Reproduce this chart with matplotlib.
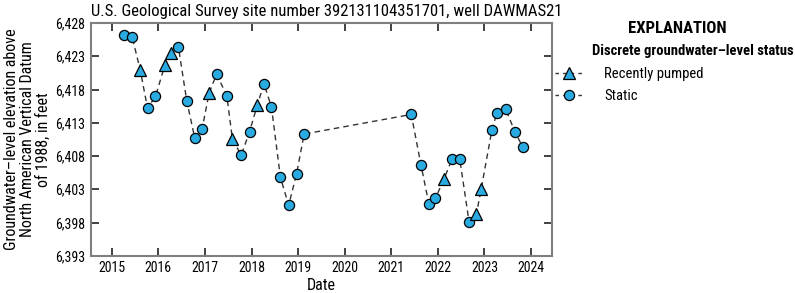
import matplotlib
matplotlib.use("Agg")
import matplotlib.pyplot as plt
import matplotlib.dates as mdates
from matplotlib.lines import Line2D
from matplotlib.ticker import FuncFormatter
import numpy as np

plt.rcParams['font.family'] = ['Roboto Condensed', 'Asap Condensed', 'Liberation Sans', 'DejaVu Sans']

# measurement dates, water-level elevations and status (P = recently pumped, S = static)
dates = ["2015-04-08", "2015-06-10", "2015-08-11", "2015-10-08", "2015-12-09",
         "2016-02-21", "2016-04-08", "2016-06-06", "2016-08-11", "2016-10-12",
         "2016-12-09", "2017-02-02", "2017-04-02", "2017-06-21", "2017-08-04",
         "2017-10-12", "2017-12-16", "2018-02-14", "2018-04-08", "2018-06-06",
         "2018-08-15", "2018-10-19", "2018-12-20", "2019-02-17", "2021-06-06",
         "2021-08-22", "2021-10-23", "2021-12-13", "2022-02-17", "2022-04-23",
         "2022-06-21", "2022-09-02", "2022-10-30", "2022-12-06", "2023-02-28",
         "2023-04-08", "2023-06-17", "2023-08-29", "2023-10-30"]
elev = [6426.15, 6425.85, 6421.0, 6415.2, 6416.95,
        6421.65, 6423.55, 6424.4, 6416.25, 6410.75,
        6412.05, 6417.5, 6420.3, 6417.05, 6410.5,
        6408.15, 6411.65, 6415.6, 6418.9, 6415.35,
        6404.8, 6400.6, 6405.35, 6411.3, 6414.25,
        6406.6, 6400.75, 6401.65, 6404.5, 6407.6,
        6407.6, 6398.15, 6399.3, 6403.0, 6411.85,
        6414.45, 6415.0, 6411.6, 6409.3]
status = ["S", "S", "P", "S", "S", "P", "P", "S", "S", "S",
          "S", "P", "S", "S", "P", "S", "S", "P", "S", "S",
          "S", "S", "S", "S", "S", "S", "S", "S", "P", "S",
          "S", "S", "P", "P", "S", "S", "S", "S", "S"]
yticks = [6393, 6398, 6403, 6408, 6413, 6418, 6423, 6428]

x = np.array(dates, dtype="datetime64[D]")
y = np.array(elev)
st = np.array(status)

blue = "#29abe2"
gray = "#7f7f7f"

fig = plt.figure(figsize=(7.95, 2.93), dpi=100)
ax = fig.add_axes([0.1145, 0.127, 0.5802, 0.7945])

ax.plot(x, y, color="#333333", ls=(0, (4, 3)), lw=1.0, zorder=2)
p = st == "P"
ax.plot(x[~p], y[~p], ls="none", marker="o", ms=7.3, mfc=blue, mec="black", mew=0.9, zorder=3)
ax.plot(x[p], y[p], ls="none", marker="^", ms=8.5, mfc=blue, mec="black", mew=0.9, zorder=3)

ax.set_xlim(np.datetime64("2014-07-22"), np.datetime64("2024-06-16"))
ax.set_ylim(yticks[0], yticks[-1])
ax.set_yticks(yticks)
ax.xaxis.set_major_locator(mdates.YearLocator())
ax.xaxis.set_major_formatter(mdates.DateFormatter("%Y"))
ax.yaxis.set_major_formatter(FuncFormatter(lambda v, pos: "{:,.0f}".format(v)))

for s in ax.spines.values():
    s.set_color(gray)
    s.set_linewidth(1.5)
ax.tick_params(direction="in", length=6, width=1.3, color="#333333",
               top=True, right=True, labelsize=10, pad=4)

ax.set_xlabel("Date", fontsize=11.5, labelpad=2)
ax.set_ylabel("Groundwater\u2013level elevation above\nNorth American Vertical Datum\nof 1988, in feet",
              fontsize=11.5, labelpad=3, linespacing=1.1)
ax.set_title("U.S. Geological Survey site number 392131104351701, well DAWMAS21",
             loc="left", fontsize=12, pad=5)

# explanation block
fig.text(0.852, 0.903, "EXPLANATION", fontsize=12, fontweight="bold",
         ha="center", va="center")
fig.text(0.871, 0.826, "Discrete groundwater\u2013level status", fontsize=10.5,
         fontweight="bold", ha="center", va="center")
handles = [
    Line2D([], [], color="#333333", ls=(0, (2.5, 3)), lw=1.0, marker="^", ms=8.5,
           mfc=blue, mec="black", mew=0.9),
    Line2D([], [], color="#333333", ls=(0, (2.5, 3)), lw=1.0, marker="o", ms=7.3,
           mfc=blue, mec="black", mew=0.9),
]
fig.legend(handles, ["Recently pumped", "Static"], loc="upper left",
           bbox_to_anchor=(0.681, 0.817), frameon=False, fontsize=10.5,
           handlelength=2.0, handletextpad=1.4, labelspacing=0.6)

fig.savefig("out.png", dpi=100)
